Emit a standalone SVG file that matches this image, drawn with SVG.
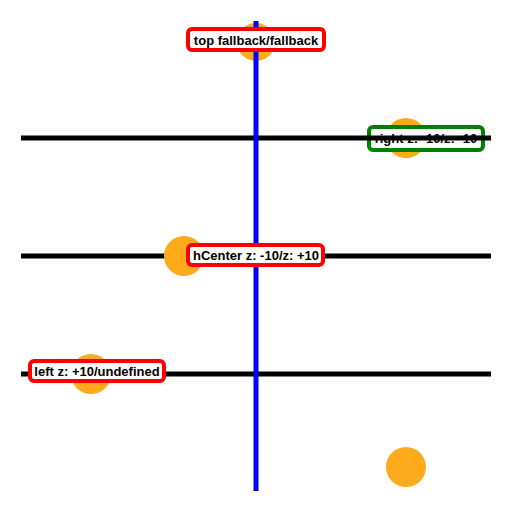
<svg xmlns="http://www.w3.org/2000/svg" width="512" height="512" viewBox="0 0 512 512">
  <style>
    .dot { fill: #fdab1c; }
    .box { fill: #ffffff; stroke-width: 4; }
    .red { stroke: #ff0000; }
    .green { stroke: #008000; }
    .lbl { font-family: "Liberation Sans", Arial, sans-serif; font-weight: bold; font-size: 13px; fill: #000000; text-anchor: middle; }
    .hline { stroke: #000000; stroke-width: 5; }
    .vline { stroke: #0000ff; stroke-width: 5; }
  </style>
  <rect width="512" height="512" fill="#ffffff"/>
  <g id="top-dot">
    <circle class="dot" cx="256" cy="42" r="19"/>
  </g>
  <g id="right">
    <circle class="dot" cx="406" cy="138" r="20"/>
    <rect class="box green" x="369" y="127" width="114" height="23" rx="4"/>
    <text class="lbl" x="426" y="143">right z: -10/z: -10</text>
  </g>
  <g id="lines">
    <line class="hline" x1="21" y1="138" x2="491" y2="138"/>
    <line class="hline" x1="21" y1="256" x2="491" y2="256"/>
    <line class="hline" x1="21" y1="374" x2="491" y2="374"/>
    <line class="vline" x1="256" y1="21" x2="256" y2="491"/>
  </g>
  <g id="hCenter">
    <circle class="dot" cx="184" cy="256" r="20"/>
    <rect class="box red" x="188" y="245" width="135" height="20" rx="4"/>
    <text class="lbl" x="256" y="260">hCenter z: -10/z: +10</text>
  </g>
  <g id="left">
    <circle class="dot" cx="91" cy="374" r="20"/>
    <rect class="box red" x="30" y="361" width="134" height="20" rx="4"/>
    <text class="lbl" x="97" y="376">left z: +10/undefined</text>
  </g>
  <g id="top">
    <rect class="box red" x="188" y="29" width="136" height="21" rx="4"/>
    <text class="lbl" x="256" y="44.5">top fallback/fallback</text>
  </g>
  <g id="bottom-dot">
    <circle class="dot" cx="406" cy="467" r="20"/>
  </g>
</svg>
